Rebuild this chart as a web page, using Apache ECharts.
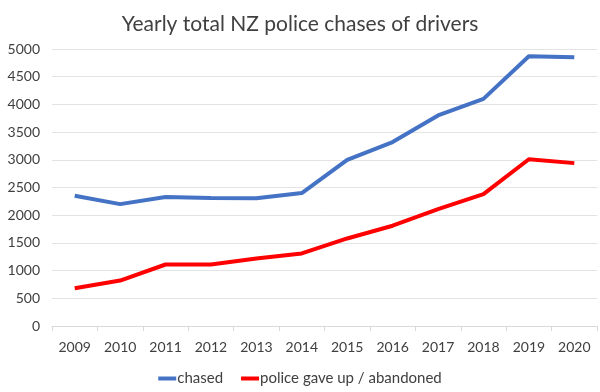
<!DOCTYPE html>
<html><head><meta charset="utf-8">
<script src="https://cdn.jsdelivr.net/npm/echarts@6/dist/echarts.min.js"></script>
<style>html,body{margin:0;padding:0;background:#fff}#c{width:600px;height:392px}</style>
</head><body><div id="c"></div>
<script>
var years = ['2009','2010','2011','2012','2013','2014','2015','2016','2017','2018','2019','2020'];
var chased = [2350,2200,2330,2310,2305,2400,3000,3320,3800,4100,4870,4850];
var gaveUp = [680,820,1110,1110,1220,1310,1580,1810,2110,2380,3010,2940];
var chart = echarts.init(document.getElementById('c'));
var font = 'Lato, "Open Sans", sans-serif';
chart.setOption({
  animation:false,
  title:{text:'Yearly total NZ police chases of drivers',left:'center',top:9,
    textStyle:{fontFamily:font,fontSize:21,fontWeight:'normal',color:'#404040'}},
  grid:{left:52,right:3,top:49,bottom:66},
  legend:{top:366,left:'center',itemWidth:18,itemHeight:4,itemGap:18,icon:'rect',
    textStyle:{fontFamily:font,fontSize:15,color:'#404040',padding:[0,0,0,-4]},
    data:['chased','police gave up / abandoned']},
  xAxis:{type:'category',data:years,boundaryGap:true,
    axisLine:{lineStyle:{color:'#d9d9d9'}},
    axisTick:{show:true,lineStyle:{color:'#d9d9d9'},length:5},
    axisLabel:{fontFamily:font,fontSize:14,color:'#404040',margin:14}},
  yAxis:{type:'value',min:0,max:5000,interval:500,
    axisLine:{show:false},axisTick:{show:false},
    splitLine:{lineStyle:{color:'#e3e3e3'}},
    axisLabel:{fontFamily:font,fontSize:14,color:'#404040',margin:12,
      formatter:function(v){return String(v);}}},
  series:[
    {name:'chased',type:'line',data:chased,symbol:'none',lineStyle:{width:4,color:'#4472C4'},itemStyle:{color:'#4472C4'}},
    {name:'police gave up / abandoned',type:'line',data:gaveUp,symbol:'none',lineStyle:{width:4,color:'#FF0000'},itemStyle:{color:'#FF0000'}}
  ]
});
</script></body></html>
